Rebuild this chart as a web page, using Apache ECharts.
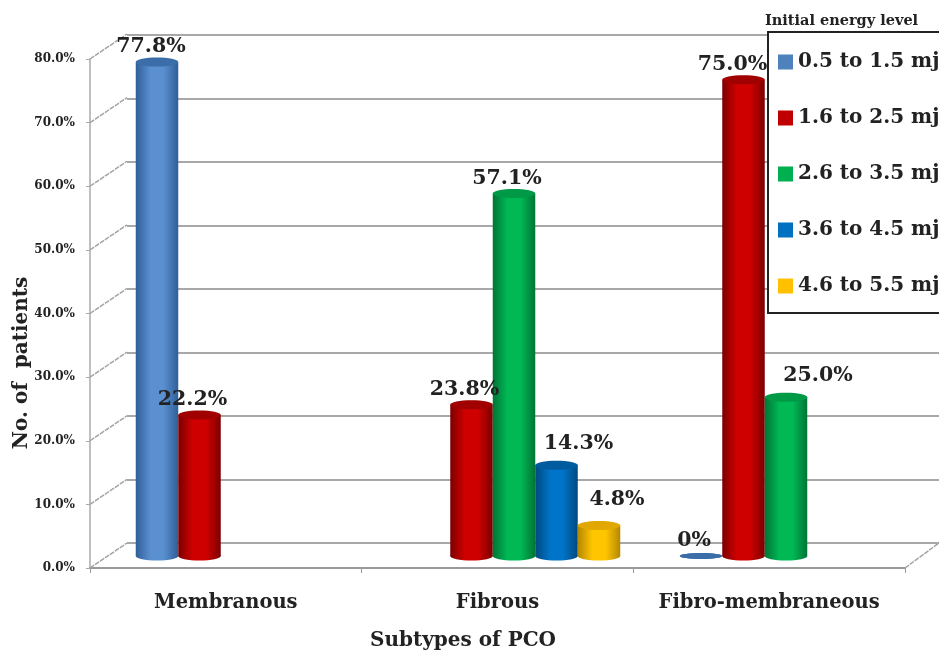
<!DOCTYPE html>
<html>
<head>
<meta charset="utf-8">
<style>
  html, body { margin: 0; padding: 0; background: #fff; overflow: hidden; }
  #main { width: 939px; height: 653px; }
</style>
<script src="https://cdn.jsdelivr.net/npm/echarts@6/dist/echarts.min.js"></script>
</head>
<body>
<div id="main"></div>
<script>
  var categories = ['Membranous', 'Fibrous', 'Fibro-membraneous'];
  var seriesNames = ['0.5 to 1.5 mj', '1.6 to 2.5 mj', '2.6 to 3.5 mj', '3.6 to 4.5 mj', '4.6 to 5.5 mj'];
  var level1 = [77.8, null, 0];
  var level2 = [22.2, 23.8, 75.0];
  var level3 = [null, 57.1, 25.0];
  var level4 = [null, 14.3, null];
  var level5 = [null, 4.8, null];
  var allLevels = [level1, level2, level3, level4, level5];
  var yTicks = [0, 10, 20, 30, 40, 50, 60, 70, 80];

  // flat colour for the legend, then edge / middle / top of each cylinder
  var flatColors = ['#4f81bd', '#c00000', '#00b050', '#0070c0', '#ffc000'];
  var edgeColors = ['#2f5f98', '#7c0000', '#007436', '#00497f', '#b58700'];
  var midColors = ['#5a8fd0', '#d00000', '#00b955', '#0074c8', '#ffc600'];
  var topColors = ['#3b6ea8', '#a00000', '#009a46', '#005c9e', '#e0a800'];

  // how far each value label sits from its bar, [series][category]
  var labelShift = [[-6, 0, -7], [-7, -7, -11], [0, -7, 32], [0, 22, 0], [0, 18, 0]];
  var labelLift = [[15, 0, 15], [15, 15, 15], [0, 15, 22], [0, 22, 0], [0, 26, 0]];

  var serifFont = '"DejaVu Serif", serif';
  var chart = echarts.init(document.getElementById('main'));

  function cylinder(params, api) {
    var v = api.value(1);
    if (v === null || isNaN(v)) return;
    var idx = params.seriesIndex - 1;
    var cat = api.value(0);
    var base = api.coord([cat, 0]);
    var top = api.coord([cat, v]);
    var slot = 42.5;
    var x = base[0] - slot * 2.5 + slot * idx;
    var rx = slot / 2;
    var ry = 4.5;
    var grad = new echarts.graphic.LinearGradient(0, 0, 1, 0, [
      { offset: 0, color: edgeColors[idx] },
      { offset: 0.35, color: midColors[idx] },
      { offset: 0.65, color: midColors[idx] },
      { offset: 1, color: edgeColors[idx] }
    ]);
    var label = v === 0 ? '0%' : v.toFixed(1) + '%';
    return {
      type: 'group',
      children: [
        { type: 'ellipse', shape: { cx: x + rx, cy: base[1], rx: rx, ry: v === 0 ? 3 : ry }, style: { fill: v === 0 ? topColors[idx] : grad } },
        { type: 'rect', shape: { x: x, y: top[1], width: slot, height: base[1] - top[1] }, style: { fill: grad } },
        { type: 'ellipse', shape: { cx: x + rx, cy: top[1], rx: rx, ry: v === 0 ? 3 : ry }, style: { fill: topColors[idx] } },
        {
          type: 'text', z2: 100,
          style: {
            text: label, x: x + rx + labelShift[idx][cat], y: top[1] - labelLift[idx][cat],
            fill: '#222', font: 'bold 20.5px ' + serifFont,
            textAlign: 'center', textVerticalAlign: 'middle'
          }
        }
      ]
    };
  }

  // dashed floor / wall edges joining the front axis to the back wall
  function depthLines(params, api) {
    var v = api.value(0);
    var y = api.coord([0, v])[1];
    var sys = params.coordSys;
    var style = { stroke: '#a4a4a4', lineWidth: 1.5, lineDash: [5, 1] };
    var kids = [{ type: 'line', shape: { x1: sys.x, y1: y, x2: sys.x + 37, y2: y - 25 }, style: style }];
    if (v === 0) {
      kids.push({ type: 'line', shape: { x1: sys.x + sys.width, y1: y, x2: sys.x + sys.width + 34, y2: y - 25 }, style: style });
    }
    return { type: 'group', children: kids };
  }

  var series = [{
    type: 'custom',
    xAxisIndex: 1,
    yAxisIndex: 1,
    silent: true,
    renderItem: depthLines,
    data: yTicks.map(function (t) { return [t]; }),
    encode: { y: 0 }
  }];
  allLevels.forEach(function (vals, i) {
    series.push({
      name: seriesNames[i],
      type: 'custom',
      xAxisIndex: 2,
      yAxisIndex: 2,
      itemStyle: { color: flatColors[i] },
      renderItem: cylinder,
      encode: { x: 0, y: 1 },
      data: vals.map(function (v, c) { return [c, v]; })
    });
  });

  var hiddenX = { type: 'category', data: categories, show: false };
  var hiddenY = { type: 'value', min: 0, max: 80, interval: 10, show: false };

  var option = {
    animation: false,
    backgroundColor: '#fff',
    legend: {
      data: seriesNames,
      orient: 'vertical',
      left: 768,
      top: 32,
      padding: [20, 30, 17, 10],
      itemGap: 36,
      itemWidth: 15,
      itemHeight: 15,
      icon: 'rect',
      backgroundColor: '#fff',
      borderColor: '#222',
      borderWidth: 2,
      borderRadius: 0,
      selectedMode: false,
      textStyle: { fontFamily: serifFont, fontWeight: 'bold', fontSize: 20, color: '#222' }
    },
    grid: [
      { left: 127, top: 35, width: 812, height: 508 },   // back wall
      { left: 90, top: 59, width: 815, height: 509 },    // front axes
      { left: 106, top: 48, width: 816, height: 508 }    // bars
    ],
    xAxis: [
      { gridIndex: 0, type: 'category', data: categories, show: false },
      {
        gridIndex: 1, type: 'category', data: categories,
        axisLine: { lineStyle: { color: '#999', width: 2 } },
        axisTick: { show: true, length: 5, alignWithLabel: false, lineStyle: { color: '#999' } },
        axisLabel: { interval: 0, margin: 25, color: '#222', fontFamily: serifFont, fontWeight: 'bold', fontSize: 19.5 }
      },
      Object.assign({ gridIndex: 2 }, hiddenX)
    ],
    yAxis: [
      {
        gridIndex: 0, type: 'value', min: 0, max: 80, interval: 10,
        axisLine: { show: false }, axisTick: { show: false }, axisLabel: { show: false },
        splitLine: { show: true, lineStyle: { color: '#a8a8a8', width: 2 } }
      },
      {
        gridIndex: 1, type: 'value', min: 0, max: 80, interval: 10,
        axisLine: { show: true, lineStyle: { color: '#aaa', width: 1.5 } },
        axisTick: { show: true, length: 4, lineStyle: { color: '#aaa' } },
        splitLine: { show: false },
        axisLabel: {
          margin: 15, color: '#222', fontFamily: serifFont, fontWeight: 'bold', fontSize: 12,
          formatter: function (v) { return v.toFixed(1) + '%'; }
        }
      },
      Object.assign({ gridIndex: 2 }, hiddenY)
    ],
    graphic: [
      {
        type: 'text', left: 765, top: 14,
        style: { text: 'Initial energy level', fill: '#222', font: 'bold 14.5px ' + serifFont }
      },
      {
        type: 'text', left: 370, top: 631,
        style: { text: 'Subtypes of PCO', fill: '#222', font: 'bold 20px ' + serifFont }
      },
      {
        type: 'text', x: 22, y: 363, rotation: Math.PI / 2,
        style: {
          text: 'No. of  patients', fill: '#222', font: 'bold 20px ' + serifFont,
          textAlign: 'center', textVerticalAlign: 'middle'
        }
      }
    ],
    series: series
  };
  chart.setOption(option);
</script>
</body>
</html>
